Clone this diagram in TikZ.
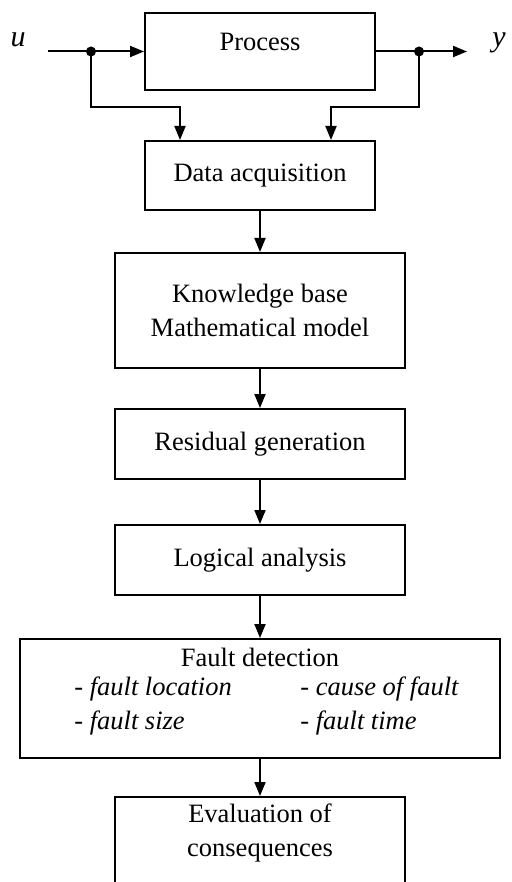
\documentclass[tikz,border=0pt]{standalone}
\usepackage{fontspec}
\setmainfont{Liberation Serif}
\usetikzlibrary{arrows.meta,calc}
\begin{document}
\begin{tikzpicture}[x=1pt, y=-1pt, line width=2pt, >={Triangle[length=14pt,width=11pt]},
  every node/.style={font=\fontsize{26.5}{34}\selectfont, align=center},
  block/.style={draw, rectangle, inner sep=0pt},
  dot/.style={circle, fill, inner sep=0pt, minimum size=10pt},
  sig/.style={font=\fontsize{30}{34}\selectfont\itshape}]
\useasboundingbox (0,0) rectangle (511,882);
\clip (0,0) rectangle (511,882);
% blocks
\node[block, minimum width=230pt, minimum height=77pt] (proc) at (260,51.5) {};
\node (proctext) at (260,42) {Process};
\node[block, minimum width=230pt, minimum height=69pt] (acq) at (260,175.5) {Data acquisition};
\node[block, minimum width=290pt, minimum height=115pt] (know) at (260,310.5) {Knowledge base\\Mathematical model};
\node[block, minimum width=290pt, minimum height=70pt] (resid) at (260,444) {Residual generation};
\node[block, minimum width=290pt, minimum height=70pt] (logic) at (260,560) {Logical analysis};
\node[block, minimum width=480pt, minimum height=119pt] (fault) at (260,698.5) {};
\node (faulttext) at (260,657) {Fault detection};
\node[anchor=west, align=left] (faultleft) at (70,706) {- \textit{fault location}\\- \textit{fault size}};
\node[anchor=west, align=left] (faultright) at (296,706) {- \textit{cause of fault}\\- \textit{fault time}};
\node[block, minimum width=290pt, minimum height=130pt] (evalb) at (260,862) {};
\node (evaltext) at (260,833) {Evaluation of\\consequences};
% signals
\node[sig] (ulabel) at (18,40) {u};
\node[sig] (ylabel) at (499,43) {y};
\coordinate (uin) at (48,51.5);
\coordinate (yout) at (467,51.5);
\node[dot] (udot) at (91,51.5) {};
\node[dot] (ydot) at (419,51.5) {};
\coordinate (ubend) at (180,107);
\coordinate (ybend) at (331,107);
\draw[->] (uin) -- (proc.west);
\draw[->] (proc.east) -- (yout);
\draw[->] (udot.center) |- (ubend) -- (ubend |- acq.north);
\draw[->] (ydot.center) |- (ybend) -- (ybend |- acq.north);
% chain
\draw[->] (acq) -- (know);
\draw[->] (know) -- (resid);
\draw[->] (resid) -- (logic);
\draw[->] (logic) -- (fault);
\draw[->] (fault) -- (evalb);
\end{tikzpicture}
\end{document}
